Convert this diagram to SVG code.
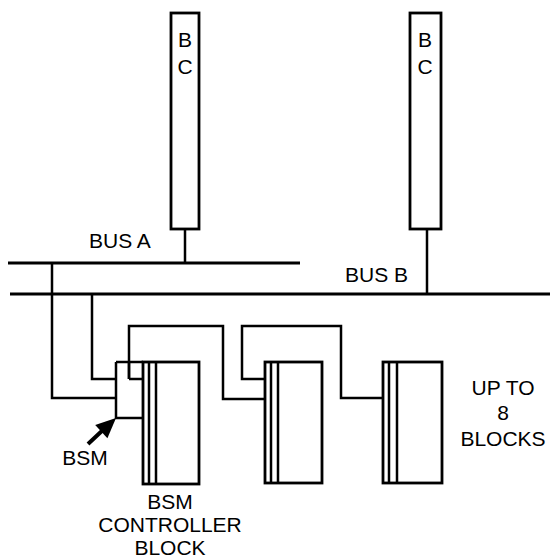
<svg xmlns="http://www.w3.org/2000/svg" width="550" height="560" viewBox="0 0 550 560">
<style>
.ln{fill:none;stroke:#000;stroke-width:2.5;stroke-linejoin:miter}
.bus{fill:none;stroke:#000;stroke-width:3}
.box{fill:#fff;stroke:#000;stroke-width:2.8}
.t{font-family:"Liberation Sans",Arial,sans-serif;font-size:21px;fill:#000}
.c{text-anchor:middle}
</style>
<rect width="550" height="560" fill="#fff"/>
<g id="connectors">
<path class="ln" d="M185,229 V263"/>
<path class="ln" d="M427,229 V294"/>
<path class="bus" d="M8,263 H300"/>
<path class="bus" d="M10,294 H550"/>
<path class="ln" d="M52,263 V398 H116"/>
<path class="ln" d="M92,294 V379 H116"/>
<path class="ln" d="M129,379 H143"/>
<path class="ln" d="M129,379 V326 H223 V399 H265"/>
<path class="ln" d="M265,379 H242 V326 H341 V398 H383"/>
<path d="M88,444 L104,429" stroke="#000" stroke-width="4" fill="none"/>
<polygon points="116,418 107.4,438.2 95.2,425" fill="#000"/>
</g>
<g id="bc1">
<rect class="box" x="171" y="13" width="28" height="216"/>
<text class="t c" x="185" y="47">B</text>
<text class="t c" x="185" y="74">C</text>
</g>
<g id="bc2">
<rect class="box" x="410" y="13" width="31" height="216"/>
<text class="t c" x="425" y="47">B</text>
<text class="t c" x="425" y="74">C</text>
</g>
<g id="busA"><text class="t" x="89" y="248">BUS A</text></g>
<g id="busB"><text class="t" x="345" y="282">BUS B</text></g>
<g id="bsm">
<path class="ln" d="M116,362 H143 M116,362 V418 H143"/>
<path class="ln" d="M129,379 V362"/>
<text class="t c" x="85" y="465">BSM</text>
</g>
<g id="block1">
<rect class="box" x="143" y="362" width="56" height="122"/>
<path class="ln" d="M149,362 V484 M156,362 V484"/>
<text class="t c" x="170" y="509">BSM</text>
<text class="t c" x="170" y="532">CONTROLLER</text>
<text class="t c" x="170" y="555">BLOCK</text>
</g>
<g id="block2">
<rect class="box" x="265" y="362" width="57" height="121"/>
<path class="ln" d="M271,362 V483 M278,362 V483"/>
</g>
<g id="block3">
<rect class="box" x="383" y="362" width="59" height="121"/>
<path class="ln" d="M389,362 V483 M397,362 V483"/>
</g>
<g id="upto">
<text class="t c" x="503" y="395">UP TO</text>
<text class="t c" x="503" y="420">8</text>
<text class="t c" x="503" y="446">BLOCKS</text>
</g>
</svg>
